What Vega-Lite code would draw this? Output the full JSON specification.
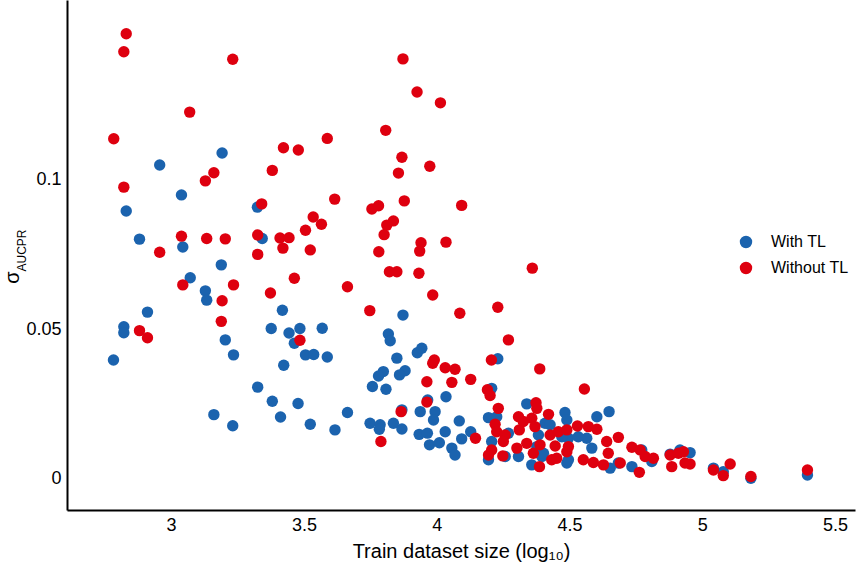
{
  "$schema": "https://vega.github.io/schema/vega-lite/v6.json",
  "autosize": {"type": "none"},
  "padding": {"left": 67, "top": 0, "right": 1, "bottom": 60},
  "width": 788,
  "height": 510,
  "config": {
    "view": {"stroke": null},
    "font": "Liberation Sans",
    "axis": {"grid": false, "domainColor": "#000000", "domainWidth": 2, "ticks": false, "tickSize": 0, "labelColor": "#000000", "titleColor": "#000000", "labelFont": "Liberation Sans", "titleFont": "Liberation Sans", "labelFontSize": 18, "titleFontWeight": "normal"},
    "legend": {"labelFont": "Liberation Sans"}
  },
  "data": {
    "values": [
      {"x":3.192,"y":0.1090,"g":"With TL"},{"x":2.957,"y":0.1050,"g":"With TL"},{"x":3.039,"y":0.0950,"g":"With TL"},{"x":2.831,"y":0.0896,"g":"With TL"},{"x":3.325,"y":0.0909,"g":"With TL"},{"x":2.881,"y":0.0802,"g":"With TL"},{"x":3.044,"y":0.0776,"g":"With TL"},{"x":3.343,"y":0.0804,"g":"With TL"},{"x":3.189,"y":0.0716,"g":"With TL"},{"x":3.072,"y":0.0673,"g":"With TL"},
      {"x":3.129,"y":0.0629,"g":"With TL"},{"x":3.134,"y":0.0598,"g":"With TL"},{"x":2.911,"y":0.0558,"g":"With TL"},{"x":2.822,"y":0.0509,"g":"With TL"},{"x":2.822,"y":0.0489,"g":"With TL"},{"x":2.783,"y":0.0398,"g":"With TL"},{"x":3.204,"y":0.0465,"g":"With TL"},{"x":3.235,"y":0.0415,"g":"With TL"},{"x":3.419,"y":0.0564,"g":"With TL"},{"x":3.377,"y":0.0503,"g":"With TL"},
      {"x":3.444,"y":0.0488,"g":"With TL"},{"x":3.485,"y":0.0503,"g":"With TL"},{"x":3.464,"y":0.0454,"g":"With TL"},{"x":3.569,"y":0.0504,"g":"With TL"},{"x":3.506,"y":0.0415,"g":"With TL"},{"x":3.537,"y":0.0416,"g":"With TL"},{"x":3.588,"y":0.0408,"g":"With TL"},{"x":3.424,"y":0.0380,"g":"With TL"},{"x":3.326,"y":0.0307,"g":"With TL"},{"x":3.381,"y":0.0260,"g":"With TL"},
      {"x":3.478,"y":0.0252,"g":"With TL"},{"x":3.412,"y":0.0207,"g":"With TL"},{"x":3.161,"y":0.0215,"g":"With TL"},{"x":3.232,"y":0.0178,"g":"With TL"},{"x":3.524,"y":0.0183,"g":"With TL"},{"x":3.617,"y":0.0164,"g":"With TL"},{"x":3.664,"y":0.0222,"g":"With TL"},{"x":3.873,"y":0.0548,"g":"With TL"},{"x":3.818,"y":0.0485,"g":"With TL"},{"x":3.825,"y":0.0462,"g":"With TL"},
      {"x":3.850,"y":0.0404,"g":"With TL"},{"x":3.927,"y":0.0422,"g":"With TL"},{"x":3.944,"y":0.0437,"g":"With TL"},{"x":3.799,"y":0.0359,"g":"With TL"},{"x":3.781,"y":0.0344,"g":"With TL"},{"x":3.758,"y":0.0309,"g":"With TL"},{"x":3.809,"y":0.0300,"g":"With TL"},{"x":3.881,"y":0.0362,"g":"With TL"},{"x":3.860,"y":0.0348,"g":"With TL"},{"x":4.035,"y":0.0275,"g":"With TL"},
      {"x":3.966,"y":0.0264,"g":"With TL"},{"x":3.869,"y":0.0231,"g":"With TL"},{"x":3.938,"y":0.0225,"g":"With TL"},{"x":3.994,"y":0.0225,"g":"With TL"},{"x":3.988,"y":0.0197,"g":"With TL"},{"x":3.749,"y":0.0186,"g":"With TL"},{"x":3.787,"y":0.0181,"g":"With TL"},{"x":3.784,"y":0.0166,"g":"With TL"},{"x":3.837,"y":0.0186,"g":"With TL"},{"x":3.869,"y":0.0167,"g":"With TL"},
      {"x":3.934,"y":0.0149,"g":"With TL"},{"x":3.965,"y":0.0153,"g":"With TL"},{"x":3.973,"y":0.0114,"g":"With TL"},{"x":4.010,"y":0.0121,"g":"With TL"},{"x":4.032,"y":0.0158,"g":"With TL"},{"x":4.085,"y":0.0194,"g":"With TL"},{"x":4.094,"y":0.0134,"g":"With TL"},{"x":4.128,"y":0.0158,"g":"With TL"},{"x":4.057,"y":0.0103,"g":"With TL"},{"x":4.069,"y":0.0080,"g":"With TL"},
      {"x":4.230,"y":0.0402,"g":"With TL"},{"x":4.207,"y":0.0303,"g":"With TL"},{"x":4.195,"y":0.0205,"g":"With TL"},{"x":4.226,"y":0.0208,"g":"With TL"},{"x":4.339,"y":0.0251,"g":"With TL"},{"x":4.483,"y":0.0222,"g":"With TL"},{"x":4.603,"y":0.0208,"g":"With TL"},{"x":4.649,"y":0.0225,"g":"With TL"},{"x":4.408,"y":0.0186,"g":"With TL"},{"x":4.427,"y":0.0181,"g":"With TL"},
      {"x":4.270,"y":0.0153,"g":"With TL"},{"x":4.207,"y":0.0125,"g":"With TL"},{"x":4.383,"y":0.0147,"g":"With TL"},{"x":4.565,"y":0.0136,"g":"With TL"},{"x":4.584,"y":0.0103,"g":"With TL"},{"x":4.496,"y":0.0136,"g":"With TL"},{"x":4.308,"y":0.0075,"g":"With TL"},{"x":4.195,"y":0.0064,"g":"With TL"},{"x":4.258,"y":0.0075,"g":"With TL"},{"x":4.358,"y":0.0047,"g":"With TL"},
      {"x":4.396,"y":0.0075,"g":"With TL"},{"x":4.490,"y":0.0053,"g":"With TL"},{"x":4.490,"y":0.0197,"g":"With TL"},{"x":4.496,"y":0.0064,"g":"With TL"},{"x":4.653,"y":0.0036,"g":"With TL"},{"x":4.684,"y":0.0053,"g":"With TL"},{"x":4.735,"y":0.0041,"g":"With TL"},{"x":4.772,"y":0.0097,"g":"With TL"},{"x":4.810,"y":0.0058,"g":"With TL"},{"x":4.879,"y":0.0083,"g":"With TL"},
      {"x":4.916,"y":0.0097,"g":"With TL"},{"x":4.954,"y":0.0088,"g":"With TL"},{"x":5.042,"y":0.0036,"g":"With TL"},{"x":5.079,"y":0.0024,"g":"With TL"},{"x":5.183,"y":0.0002,"g":"With TL"},{"x":5.396,"y":0.0013,"g":"With TL"},{"x":4.377,"y":0.0108,"g":"With TL"},{"x":4.402,"y":0.0086,"g":"With TL"},{"x":4.471,"y":0.0141,"g":"With TL"},{"x":4.533,"y":0.0141,"g":"With TL"},
      {"x":2.831,"y":0.1489,"g":"Without TL"},{"x":2.822,"y":0.1429,"g":"Without TL"},{"x":3.232,"y":0.1404,"g":"Without TL"},{"x":3.070,"y":0.1227,"g":"Without TL"},{"x":2.784,"y":0.1138,"g":"Without TL"},{"x":3.423,"y":0.1108,"g":"Without TL"},{"x":3.479,"y":0.1100,"g":"Without TL"},{"x":3.588,"y":0.1139,"g":"Without TL"},{"x":3.381,"y":0.1032,"g":"Without TL"},{"x":3.161,"y":0.1024,"g":"Without TL"},
      {"x":3.129,"y":0.0997,"g":"Without TL"},{"x":2.822,"y":0.0976,"g":"Without TL"},{"x":3.341,"y":0.0920,"g":"Without TL"},{"x":3.616,"y":0.0936,"g":"Without TL"},{"x":3.535,"y":0.0876,"g":"Without TL"},{"x":3.566,"y":0.0852,"g":"Without TL"},{"x":3.506,"y":0.0832,"g":"Without TL"},{"x":3.039,"y":0.0812,"g":"Without TL"},{"x":3.134,"y":0.0804,"g":"Without TL"},{"x":3.204,"y":0.0803,"g":"Without TL"},
      {"x":3.326,"y":0.0816,"g":"Without TL"},{"x":3.410,"y":0.0806,"g":"Without TL"},{"x":3.444,"y":0.0807,"g":"Without TL"},{"x":3.421,"y":0.0772,"g":"Without TL"},{"x":3.524,"y":0.0766,"g":"Without TL"},{"x":2.957,"y":0.0758,"g":"Without TL"},{"x":3.326,"y":0.0751,"g":"Without TL"},{"x":3.044,"y":0.0649,"g":"Without TL"},{"x":3.235,"y":0.0649,"g":"Without TL"},{"x":3.192,"y":0.0596,"g":"Without TL"},
      {"x":3.189,"y":0.0527,"g":"Without TL"},{"x":3.374,"y":0.0622,"g":"Without TL"},{"x":3.464,"y":0.0671,"g":"Without TL"},{"x":3.664,"y":0.0643,"g":"Without TL"},{"x":2.881,"y":0.0496,"g":"Without TL"},{"x":2.911,"y":0.0472,"g":"Without TL"},{"x":3.485,"y":0.0464,"g":"Without TL"},{"x":3.873,"y":0.1405,"g":"Without TL"},{"x":3.926,"y":0.1294,"g":"Without TL"},{"x":4.014,"y":0.1258,"g":"Without TL"},
      {"x":3.808,"y":0.1166,"g":"Without TL"},{"x":3.869,"y":0.1076,"g":"Without TL"},{"x":3.856,"y":0.1023,"g":"Without TL"},{"x":3.974,"y":0.1046,"g":"Without TL"},{"x":3.756,"y":0.0903,"g":"Without TL"},{"x":3.781,"y":0.0914,"g":"Without TL"},{"x":3.878,"y":0.0930,"g":"Without TL"},{"x":4.094,"y":0.0915,"g":"Without TL"},{"x":3.837,"y":0.0863,"g":"Without TL"},{"x":3.812,"y":0.0849,"g":"Without TL"},
      {"x":3.802,"y":0.0817,"g":"Without TL"},{"x":3.941,"y":0.0790,"g":"Without TL"},{"x":3.936,"y":0.0762,"g":"Without TL"},{"x":4.035,"y":0.0792,"g":"Without TL"},{"x":3.782,"y":0.0760,"g":"Without TL"},{"x":3.822,"y":0.0693,"g":"Without TL"},{"x":3.850,"y":0.0693,"g":"Without TL"},{"x":3.933,"y":0.0688,"g":"Without TL"},{"x":4.360,"y":0.0705,"g":"Without TL"},{"x":3.985,"y":0.0615,"g":"Without TL"},
      {"x":3.748,"y":0.0563,"g":"Without TL"},{"x":4.087,"y":0.0554,"g":"Without TL"},{"x":4.230,"y":0.0574,"g":"Without TL"},{"x":4.270,"y":0.0465,"g":"Without TL"},{"x":3.991,"y":0.0398,"g":"Without TL"},{"x":3.985,"y":0.0387,"g":"Without TL"},{"x":4.032,"y":0.0372,"g":"Without TL"},{"x":4.069,"y":0.0367,"g":"Without TL"},{"x":4.128,"y":0.0333,"g":"Without TL"},{"x":4.206,"y":0.0398,"g":"Without TL"},
      {"x":4.388,"y":0.0368,"g":"Without TL"},{"x":3.963,"y":0.0325,"g":"Without TL"},{"x":4.057,"y":0.0323,"g":"Without TL"},{"x":4.191,"y":0.0298,"g":"Without TL"},{"x":4.201,"y":0.0279,"g":"Without TL"},{"x":3.963,"y":0.0257,"g":"Without TL"},{"x":3.866,"y":0.0225,"g":"Without TL"},{"x":4.232,"y":0.0236,"g":"Without TL"},{"x":3.790,"y":0.0125,"g":"Without TL"},{"x":4.146,"y":0.0136,"g":"Without TL"},
      {"x":4.374,"y":0.0255,"g":"Without TL"},{"x":4.377,"y":0.0236,"g":"Without TL"},{"x":4.421,"y":0.0216,"g":"Without TL"},{"x":4.308,"y":0.0208,"g":"Without TL"},{"x":4.326,"y":0.0192,"g":"Without TL"},{"x":4.358,"y":0.0203,"g":"Without TL"},{"x":4.220,"y":0.0183,"g":"Without TL"},{"x":4.226,"y":0.0158,"g":"Without TL"},{"x":4.258,"y":0.0147,"g":"Without TL"},{"x":4.251,"y":0.0125,"g":"Without TL"},
      {"x":4.311,"y":0.0164,"g":"Without TL"},{"x":4.370,"y":0.0175,"g":"Without TL"},{"x":4.427,"y":0.0147,"g":"Without TL"},{"x":4.458,"y":0.0158,"g":"Without TL"},{"x":4.490,"y":0.0164,"g":"Without TL"},{"x":4.530,"y":0.0177,"g":"Without TL"},{"x":4.571,"y":0.0175,"g":"Without TL"},{"x":4.603,"y":0.0166,"g":"Without TL"},{"x":4.302,"y":0.0103,"g":"Without TL"},{"x":4.339,"y":0.0119,"g":"Without TL"},
      {"x":4.389,"y":0.0114,"g":"Without TL"},{"x":4.364,"y":0.0086,"g":"Without TL"},{"x":4.446,"y":0.0110,"g":"Without TL"},{"x":4.496,"y":0.0108,"g":"Without TL"},{"x":4.490,"y":0.0091,"g":"Without TL"},{"x":4.207,"y":0.0097,"g":"Without TL"},{"x":4.195,"y":0.0080,"g":"Without TL"},{"x":4.249,"y":0.0077,"g":"Without TL"},{"x":4.433,"y":0.0064,"g":"Without TL"},{"x":4.452,"y":0.0069,"g":"Without TL"},
      {"x":4.387,"y":0.0041,"g":"Without TL"},{"x":4.552,"y":0.0064,"g":"Without TL"},{"x":4.590,"y":0.0055,"g":"Without TL"},{"x":4.628,"y":0.0047,"g":"Without TL"},{"x":4.640,"y":0.0125,"g":"Without TL"},{"x":4.646,"y":0.0086,"g":"Without TL"},{"x":4.556,"y":0.0301,"g":"Without TL"},{"x":4.735,"y":0.0106,"g":"Without TL"},{"x":4.766,"y":0.0097,"g":"Without TL"},{"x":4.785,"y":0.0075,"g":"Without TL"},
      {"x":4.816,"y":0.0069,"g":"Without TL"},{"x":4.763,"y":0.0022,"g":"Without TL"},{"x":4.879,"y":0.0080,"g":"Without TL"},{"x":4.910,"y":0.0086,"g":"Without TL"},{"x":4.929,"y":0.0091,"g":"Without TL"},{"x":4.885,"y":0.0041,"g":"Without TL"},{"x":4.935,"y":0.0053,"g":"Without TL"},{"x":4.954,"y":0.0050,"g":"Without TL"},{"x":5.042,"y":0.0030,"g":"Without TL"},{"x":5.079,"y":0.0011,"g":"Without TL"},
      {"x":5.105,"y":0.0050,"g":"Without TL"},{"x":5.183,"y":0.0008,"g":"Without TL"},{"x":5.396,"y":0.0030,"g":"Without TL"},{"x":4.684,"y":0.0139,"g":"Without TL"},{"x":4.691,"y":0.0053,"g":"Without TL"}
    ]
  },
  "layer": [
    {
      "mark": {"type": "point", "filled": true, "opacity": 1, "size": 130, "strokeWidth": 0},
      "encoding": {
        "x": {"field": "x", "type": "quantitative",
          "scale": {"domain": [2.608, 5.575], "nice": false, "zero": false},
          "axis": {"values": [3, 3.5, 4, 4.5, 5, 5.5], "format": "~g", "labelPadding": 6, "labelFontSize": 18,
            "title": "Train dataset size (log₁₀)", "titleFontSize": 20, "titleBaseline": "alphabetic", "titleY": 47}},
        "y": {"field": "y", "type": "quantitative",
          "scale": {"domain": [-0.0104, 0.1602], "nice": false, "zero": false},
          "axis": {"values": [0, 0.05, 0.1], "format": "~g", "labelPadding": 6, "labelFontSize": 18,
            "title": "σ", "titleFontSize": 20, "titleAngle": -90, "titleAlign": "center", "titleBaseline": "alphabetic", "titleX": -49, "titleY": 277}},
        "color": {"field": "g", "type": "nominal",
          "scale": {"domain": ["With TL", "Without TL"], "range": ["#1B63AE", "#DE000F"]},
          "legend": {"title": null, "orient": "none", "legendX": 671, "legendY": 234, "padding": 0,
            "symbolType": "circle", "symbolSize": 154, "symbolStrokeWidth": 0, "symbolOpacity": 1,
            "labelFontSize": 16, "labelColor": "#000000", "labelOffset": 17, "rowPadding": 10}}
      }
    },
    {
      "mark": {"type": "point", "opacity": 0},
      "encoding": {
        "y": {"field": "y", "type": "quantitative",
          "axis": {"orient": "right", "domain": false, "labels": false, "ticks": false,
            "title": "AUCPR", "titleFontSize": 12, "titleAngle": -90, "titleAlign": "center", "titleBaseline": "alphabetic", "titleX": -830, "titleY": 250}}
      }
    }
  ],
  "resolve": {"axis": {"y": "independent"}}
}
